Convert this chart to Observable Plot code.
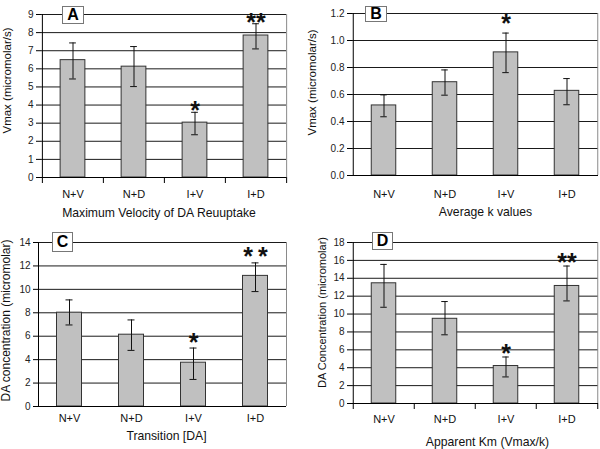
<!DOCTYPE html>
<html>
<head>
<meta charset="utf-8">
<script src="https://cdn.jsdelivr.net/npm/d3@7"></script>
<script src="https://cdn.jsdelivr.net/npm/@observablehq/plot@0.6"></script>
<style>
  html, body { margin: 0; padding: 0; background: #fff; }
  #wrap { position: relative; width: 600px; height: 449px; background: #fff; overflow: hidden; font-family: "Liberation Sans", Arial, sans-serif; }
  .panel { position: absolute; }
  .tag { position: absolute; box-sizing: border-box; border: 1px solid #777; background: #fff;
         font: bold 16px "Liberation Sans", Arial, sans-serif; color: #000;
         display: flex; align-items: center; justify-content: center; }
</style>
</head>
<body>
<div id="wrap"></div>
<script>
// ---- data ----
const groups = ["N+V", "N+D", "I+V", "I+D"];

// A: Maximum Velocity of DA Reuptake (Vmax, micromolar/s)
const vmaxMean = [6.48, 6.12, 3.03, 7.84];
const vmaxLow  = [5.44, 5.02, 2.36, 7.10];
const vmaxHigh = [7.43, 7.23, 3.60, 8.49];
const vmaxStars = ["", "", "*", "**"];
const vmaxTicks = [0, 1, 2, 3, 4, 5, 6, 7, 8, 9];

// B: Average k values
const kMean = [0.519, 0.691, 0.912, 0.627];
const kLow  = [0.435, 0.595, 0.762, 0.524];
const kHigh = [0.597, 0.782, 1.055, 0.718];
const kStars = ["", "", "*", ""];
const kTicks = [0, 0.2, 0.4, 0.6, 0.8, 1.0, 1.2];

// C: Transition [DA] (micromolar)
const transMean = [8.01, 6.13, 3.74, 11.15];
const transLow  = [6.96, 4.79, 2.31, 9.81];
const transHigh = [9.10, 7.39, 4.99, 12.26];
const transStars = ["", "", "*", "* *"];
const transTicks = [0, 2, 4, 6, 8, 10, 12, 14];

// D: Apparent Km (Vmax/k) (micromolar)
const kmMean = [13.44, 9.47, 4.19, 13.14];
const kmLow  = [10.76, 7.68, 2.97, 11.47];
const kmHigh = [15.55, 11.40, 5.20, 15.37];
const kmStars = ["", "", "*", "**"];
const kmTicks = [0, 2, 4, 6, 8, 10, 12, 14, 16, 18];

const panels = [
  { tag: "A", mean: vmaxMean, low: vmaxLow, high: vmaxHigh, stars: vmaxStars, ticks: vmaxTicks,
    fmt: d3.format("d"), xTitle: "Maximum Velocity of DA Reuuptake", yTitle: "Vmax (micromolar/s)",
    left: 0, top: 0, height: 225, ml: 41, mr: 14, mt: 14, mb: 48, catTicks: true,
    catPad: 12.5, xtDx: -5, xtDy: 35.3, ytDx: -34.5, ytDy: -15.5, ytSize: 11.5, starDy: -1,
    tagBox: [62, 6, 22, 18] },
  { tag: "B", mean: kMean, low: kLow, high: kHigh, stars: kStars, ticks: kTicks,
    fmt: d3.format(".1f"), xTitle: "Average k values", yTitle: "Vmax (micromolar/s)",
    left: 300, top: 0, height: 225, ml: 52, mr: 2, mt: 13, mb: 50, catTicks: false,
    catPad: 14.3, xtDx: 10, xtDy: 36.7, ytDx: -40, ytDy: -12, ytSize: 11.5, starDy: -9,
    tagBox: [365, 6, 22, 16] },
  { tag: "C", mean: transMean, low: transLow, high: transHigh, stars: transStars, ticks: transTicks,
    fmt: d3.format("d"), xTitle: "Transition [DA]", yTitle: "DA concentration (micromolar)",
    left: 0, top: 225, height: 224, ml: 38, mr: 14, mt: 17, mb: 43, catTicks: false,
    catPad: 8, xtDx: 4, xtDy: 29.7, ytDx: -32.5, ytDy: -4, ytSize: 12, starDy: -5.5,
    tagBox: [52, 232, 21, 20] },
  { tag: "D", mean: kmMean, low: kmLow, high: kmHigh, stars: kmStars, ticks: kmTicks,
    fmt: d3.format("d"), xTitle: "Apparent Km (Vmax/k)", yTitle: "DA Concentration (micromolar)",
    left: 300, top: 225, height: 224, ml: 52, mr: 2, mt: 17, mb: 46, catTicks: true,
    catPad: 12, xtDx: 12, xtDy: 38.4, ytDx: -30, ytDy: -10.5, ytSize: 11, starDy: -3,
    tagBox: [372, 232, 21, 18] }
];

const wrap = document.getElementById("wrap");
const W = 300;

for (const p of panels) {
  const rows = groups.map((g, i) => ({ g, v: p.mean[i], lo: p.low[i], hi: p.high[i], s: p.stars[i] }));
  const bw = (W - p.ml - p.mr) / groups.length;
  const barInset = (bw - 25) / 2;
  const capInset = (bw - 7) / 2;
  const ymax = p.ticks[p.ticks.length - 1];
  const first = groups[0], last = groups[groups.length - 1];

  const marks = [
    // horizontal gridlines
    Plot.ruleY(p.ticks.filter(t => t > 0), { stroke: "#1a1a1a", strokeWidth: 1 }),
    // right border of plot area
    Plot.ruleX([last], { dx: bw / 2, stroke: "#8a8a8a", strokeWidth: 1 }),
    // bars
    Plot.barY(rows, { x: "g", y: "v", fill: "#c0c0c0", stroke: "#333", strokeWidth: 1,
      insetLeft: barInset, insetRight: barInset }),
    // error bars
    Plot.ruleX(rows, { x: "g", y1: "lo", y2: "hi", stroke: "#111", strokeWidth: 1 }),
    Plot.tickY(rows, { x: "g", y: "hi", stroke: "#111", strokeWidth: 1, insetLeft: capInset, insetRight: capInset }),
    Plot.tickY(rows, { x: "g", y: "lo", stroke: "#111", strokeWidth: 1, insetLeft: capInset, insetRight: capInset }),
    // left axis line and baseline
    Plot.ruleX([first], { dx: -bw / 2, stroke: "#000", strokeWidth: 1 }),
    Plot.ruleY([0], { stroke: "#000", strokeWidth: 1 }),
    // y axis
    Plot.axisY({ ticks: p.ticks, tickSize: 5, tickPadding: 3, tickFormat: p.fmt, fontSize: 10, fill: "#222", label: null }),
    // x axis labels
    Plot.axisX({ tickSize: 0, tickPadding: p.catPad, fontSize: 11, fill: "#111", label: null }),
    // significance stars
    Plot.text(rows.filter(r => r.s), { x: "g", y: "hi", text: r => r.s.replace(/ /g, "\u2009"),
      fontSize: 25, fontWeight: "bold", fill: "#111", dy: p.starDy }),
    // axis titles
    Plot.text([p.xTitle], { frameAnchor: "bottom", text: d => d, textAnchor: "middle", lineAnchor: "middle",
      dx: p.xtDx, dy: p.xtDy, fontSize: 12.2, fill: "#111" }),
    Plot.text([p.yTitle], { frameAnchor: "left", text: d => d, textAnchor: "middle", lineAnchor: "middle",
      rotate: -90, dx: p.ytDx, dy: p.ytDy, fontSize: p.ytSize, fill: "#111" })
  ];

  if (p.catTicks) {
    marks.push(Plot.ruleX(groups, { x: d => d, dx: -bw / 2, y1: 0, y2: 0, insetBottom: -6, stroke: "#000" }));
    marks.push(Plot.ruleX([last], { x: d => d, dx: bw / 2, y1: 0, y2: 0, insetBottom: -6, stroke: "#000" }));
  }

  const chart = Plot.plot({
    width: W,
    height: p.height,
    marginLeft: p.ml, marginRight: p.mr, marginTop: p.mt, marginBottom: p.mb,
    x: { domain: groups, padding: 0, axis: null },
    y: { domain: [0, ymax], axis: null },
    style: { fontFamily: "\"Liberation Sans\", Arial, sans-serif", background: "transparent", overflow: "visible" },
    marks
  });

  const holder = document.createElement("div");
  holder.className = "panel";
  holder.style.left = p.left + "px";
  holder.style.top = p.top + "px";
  holder.appendChild(chart);
  wrap.appendChild(holder);

  const tg = document.createElement("div");
  tg.className = "tag";
  tg.textContent = p.tag;
  const [bx, by, bwid, bh] = p.tagBox;
  tg.style.left = bx + "px";
  tg.style.top = by + "px";
  tg.style.width = bwid + "px";
  tg.style.height = bh + "px";
  wrap.appendChild(tg);
}
</script>
</body>
</html>
